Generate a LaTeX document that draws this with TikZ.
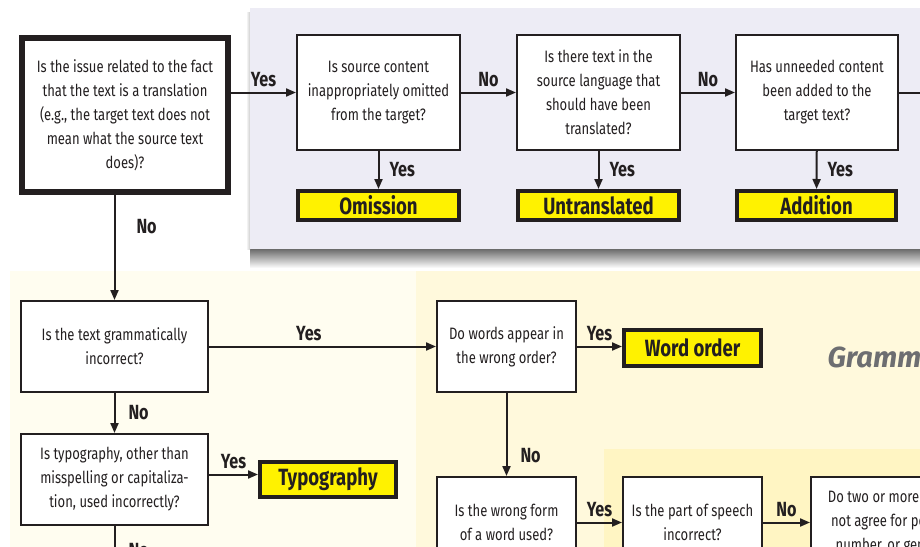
\documentclass[tikz,border=0pt]{standalone}
\usepackage{fontspec}
\setmainfont{Fira Sans}[FakeStretch=0.79]
\newfontfamily\tagfont{Fira Sans}
\usetikzlibrary{arrows.meta}
\definecolor{ink}{HTML}{231F20}
\definecolor{lav}{HTML}{EDECF5}
\definecolor{cream}{HTML}{FFFDF0}
\definecolor{pale}{HTML}{FFF9DC}
\definecolor{deep}{HTML}{FFF5C3}
\definecolor{hit}{HTML}{FFF200}
\definecolor{tag}{HTML}{6D6E71}

\begin{document}
\begin{tikzpicture}[x=1pt,y=-1pt,
  ask/.style={draw=ink,line width=2pt,fill=white,text=ink,align=center,
    font=\fontsize{16.5}{24}\selectfont,inner sep=0pt,
    minimum width=139pt,minimum height=91pt},
  verdict/.style={draw=ink,line width=4pt,fill=hit,text=ink,inner sep=0pt,
    font=\bfseries\fontsize{23.5}{23.5}\selectfont},
  lbl/.style={font=\bfseries\fontsize{20.5}{20.5}\selectfont,text=ink,inner sep=2pt},
  arr/.style={draw=ink,line width=2pt,-{Triangle[length=10pt,width=8pt]}}]
\useasboundingbox (0,0) rectangle (920,546);
\fill[cream] (10,271) rectangle (416,560);
\fill[pale] (416,271) rectangle (960,560);
\fill[deep] (604,449) rectangle (960,560);
\shade[top color=black!58,bottom color=white] (250,249) rectangle (960,268);
\shade[left color=white,right color=black!20] (246,12) rectangle (250,249);
\fill[lav] (250,8) rectangle (960,249);
\node[anchor=west,text=tag,font=\tagfont\bfseries\itshape\fontsize{29}{29}\selectfont] (gramtag) at (824,357) {Grammar};

\node[ask,line width=6pt,minimum width=206pt,minimum height=154pt] (issue) at (125,115) {Is the issue related to the fact\\that the text is a translation\\(e.g., the target text does not\\mean what the source text\\does)?};
\node[ask,minimum width=163pt,minimum height=115pt] (omit) at (378.5,92.5) {Is source content\\inappropriately omitted\\from the target?};
\node[ask,minimum width=163pt,minimum height=115pt] (untr) at (598.5,92.5) {Is there text in the\\source language that\\should have been\\translated?};
\node[ask,minimum width=162pt,minimum height=115pt] (addq) at (817,92.5) {Has unneeded content\\been added to the\\target text?};
\node[verdict,minimum width=161pt,minimum height=29pt] (omres) at (378.5,205.5) {Omission};
\node[verdict,minimum width=161pt,minimum height=29pt] (untres) at (598.5,205.5) {Untranslated};
\node[verdict,minimum width=159pt,minimum height=29pt] (addres) at (816.5,205.5) {Addition};
\coordinate (addout) at (960,92.5);

\node[ask,minimum width=187pt] (gram) at (114.5,346.5) {Is the text grammatically\\incorrect?};
\node[ask,minimum width=187pt] (typo) at (114.5,479.5) {Is typography, other than\\misspelling or capitaliza-\\tion, used incorrectly?};
\node[verdict,minimum width=136pt,minimum height=35pt] (typres) at (328,479.5) {Typography};
\coordinate (typout) at (114.5,600);
\node[ask] (order) at (506.5,346.5) {Do words appear in\\the wrong order?};
\node[verdict,minimum width=137pt,minimum height=36pt] (ordres) at (692.5,348) {Word order};
\node[ask] (form) at (506.5,522.5) {Is the wrong form\\of a word used?};
\node[ask] (pos) at (692.5,522.5) {Is the part of speech\\incorrect?};
\node[ask,minimum width=164pt] (agree) at (893,522.5) {Do two or more words\\not agree for person,\\number, or gender?};

\draw[arr] (omit.west -| issue.east) -- node[lbl,above=3pt] {Yes} (omit.west);
\draw[arr] (omit) -- node[lbl,above=3pt] {No} (untr);
\draw[arr] (untr) -- node[lbl,above=3pt] {No} (addq);
\draw[arr] (addq) -- node[lbl,above=3pt] {No} (addout);
\draw[arr] (omit) -- node[lbl,right=8pt] {Yes} (omres);
\draw[arr] (untr) -- node[lbl,right=8pt] {Yes} (untres);
\draw[arr] (addq) -- node[lbl,right=8pt] {Yes} (addres);
\draw[arr] (issue.south -| gram.north) -- node[lbl,right=19pt,pos=0.3] {No} (gram.north);
\draw[arr] (gram) -- node[lbl,above=3pt,pos=0.44] {Yes} (order);
\draw[arr] (gram) -- node[lbl,right=11pt] {No} (typo);
\draw[arr] ([yshift=5pt]typo.east) -- node[lbl,above=3pt] {Yes} ([yshift=5pt]typres.west);
\draw[arr] (typo) -- node[lbl,right=11pt,pos=0.33] {No} (typout);
\draw[arr] (order.east) -- node[lbl,above=3pt] {Yes} (order.east -| ordres.west);
\draw[arr] (order) -- node[lbl,right=11pt,pos=0.75] {No} (form);
\draw[arr] (form) -- node[lbl,above=3pt] {Yes} (pos);
\draw[arr] (pos) -- node[lbl,above=3pt] {No} (agree);
\end{tikzpicture}
\end{document}
